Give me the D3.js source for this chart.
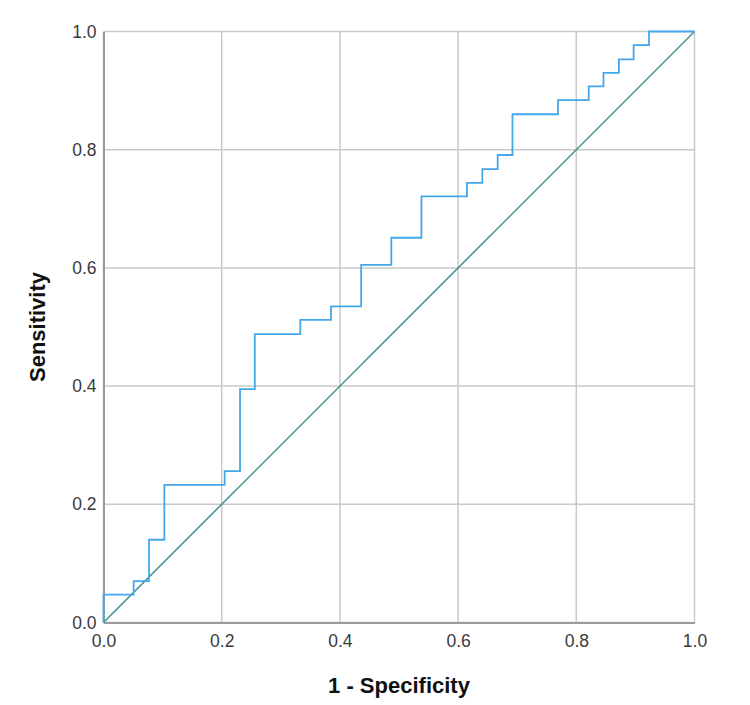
<!DOCTYPE html>
<html>
<head>
<meta charset="utf-8">
<script src="https://cdn.jsdelivr.net/npm/d3@7"></script>
<style>
  body { margin: 0; background: #fff; }
  svg { display: block; font-family: "Liberation Sans", Arial, sans-serif; }
</style>
</head>
<body>
<svg id="chart" width="750" height="705"></svg>
<script>
// ROC step vertices (1 - specificity, sensitivity)
const fpr = [0, 0, 0.051, 0.077, 0.103, 0.205, 0.231, 0.256, 0.333, 0.385, 0.436,
  0.487, 0.538, 0.615, 0.641, 0.667, 0.692, 0.769, 0.821, 0.846, 0.872, 0.897, 0.923, 1.0];
const tpr = [0, 0.047, 0.070, 0.140, 0.233, 0.256, 0.395, 0.488, 0.512, 0.535, 0.605,
  0.651, 0.721, 0.744, 0.767, 0.791, 0.860, 0.884, 0.907, 0.930, 0.953, 0.977, 1.0, 1.0];
const refLine = [[0, 0], [1, 1]];
const ticks = [0, 0.2, 0.4, 0.6, 0.8, 1.0];

const svg = d3.select("#chart");
const margin = {left: 103.5, top: 31.5, right: 55.5, bottom: 82.5};
const width = +svg.attr("width") - margin.left - margin.right;
const height = +svg.attr("height") - margin.top - margin.bottom;

const x = d3.scaleLinear().domain([0, 1]).range([0, width]);
const y = d3.scaleLinear().domain([0, 1]).range([height, 0]);

const g = svg.append("g")
    .attr("transform", `translate(${margin.left},${margin.top})`);

// grid
g.append("g")
    .selectAll("line")
    .data(ticks)
    .join("line")
    .attr("x1", d => x(d)).attr("x2", d => x(d))
    .attr("y1", 0).attr("y2", height)
    .attr("stroke", "#c9c9c9").attr("stroke-width", 1.5);
g.append("g")
    .selectAll("line")
    .data(ticks)
    .join("line")
    .attr("y1", d => y(d)).attr("y2", d => y(d))
    .attr("x1", 0).attr("x2", width)
    .attr("stroke", "#c9c9c9").attr("stroke-width", 1.5);

// axes
const xAxis = g.append("g")
    .attr("transform", `translate(0,${height})`)
    .call(d3.axisBottom(x).tickValues(ticks).tickFormat(d3.format(".1f")).tickSize(0).tickPadding(12));
const yAxis = g.append("g")
    .call(d3.axisLeft(y).tickValues(ticks).tickFormat(d3.format(".1f")).tickSize(0).tickPadding(7));
[xAxis, yAxis].forEach(a => {
  a.select(".domain").attr("stroke", "#9b9b9b").attr("stroke-width", 2);
  a.selectAll("text")
    .attr("font-family", "Liberation Sans, Arial, sans-serif")
    .attr("font-size", 17.5)
    .attr("fill", "#3a3a3a");
});

// diagonal reference
g.append("path")
    .datum(refLine)
    .attr("fill", "none")
    .attr("stroke", "#3e8f8c")
    .attr("stroke-width", 1.5)
    .attr("d", d3.line().x(d => x(d[0])).y(d => y(d[1])));

// ROC curve
const pts = fpr.map((f, i) => [f, tpr[i]]);
g.append("path")
    .datum(pts)
    .attr("fill", "none")
    .attr("stroke", "#43a8ea")
    .attr("stroke-width", 1.8)
    .attr("d", d3.line().curve(d3.curveStepAfter).x(d => x(d[0])).y(d => y(d[1])));

// titles
svg.append("text")
    .attr("x", margin.left + width / 2)
    .attr("y", 693)
    .attr("text-anchor", "middle")
    .attr("font-size", 22)
    .attr("font-weight", "bold")
    .attr("fill", "#111")
    .text("1 - Specificity");
svg.append("text")
    .attr("transform", `translate(45,${margin.top + height / 2}) rotate(-90)`)
    .attr("text-anchor", "middle")
    .attr("font-size", 22)
    .attr("font-weight", "bold")
    .attr("fill", "#111")
    .text("Sensitivity");
</script>
</body>
</html>
